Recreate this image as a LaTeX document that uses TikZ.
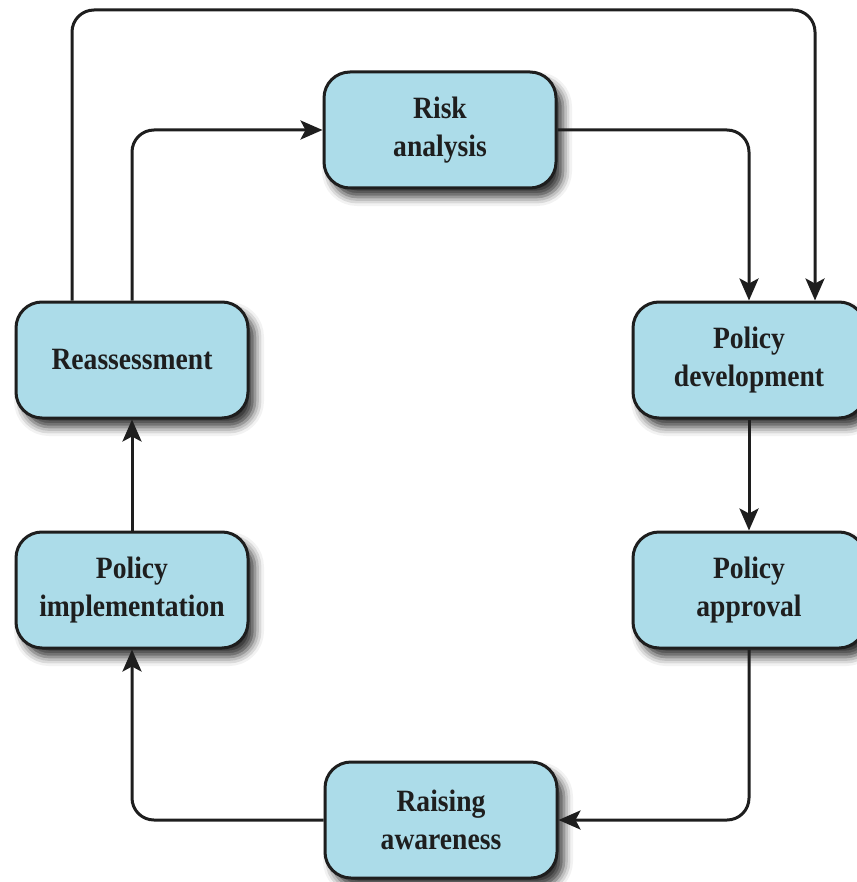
\documentclass[tikz,border=0pt]{standalone}
\usepackage{fontspec}
\setmainfont{Liberation Serif}[FakeStretch=0.89]
\usetikzlibrary{arrows.meta,shadows.blur}
\definecolor{boxblue}{RGB}{172,220,233}
\definecolor{inkgray}{RGB}{30,30,30}
\tikzset{
  box/.style={draw=inkgray, line width=3pt, fill=boxblue, rounded corners=26pt,
    minimum width=232pt, minimum height=116pt, align=center,
    font=\fontsize{31}{38}\selectfont\bfseries, text=inkgray,
    blur shadow={shadow xshift=7pt, shadow yshift=-9pt, shadow blur radius=9pt, shadow opacity=80}},
  flow/.style={draw=inkgray, line width=3pt, rounded corners=22pt,
    -{Stealth[length=22pt,width=19pt,inset=5pt]}}
}
\begin{document}
\begin{tikzpicture}[x=1pt, y=-1pt]
      \useasboundingbox (0,0) rectangle (856,882);
      \draw
        (440,130) node[box] (risk){Risk\\analysis}
        (749,360) node[box] (dev){Policy\\development}
        (749,590) node[box] (appr){Policy\\approval}
        (441,820) node[box] (aware){Raising\\awareness}
        (132,590) node[box] (impl){Policy\\implementation}
        (132,360) node[box] (reass){Reassessment};
      \coordinate (ceil) at (440,10);
      \begin{scope}[flow]
        \draw (reass.north) |- (risk.west);
        \draw ([xshift=-60pt]reass.north) |- (ceil) -| ([xshift=66pt]dev.north);
        \draw (risk.east) -| (dev.north);
        \draw (dev) to (appr);
        \draw (appr.south) |- (aware.east);
        \draw (aware.west) -| (impl.south);
        \draw (impl) to (reass);
      \end{scope}
    \end{tikzpicture}
\end{document}
